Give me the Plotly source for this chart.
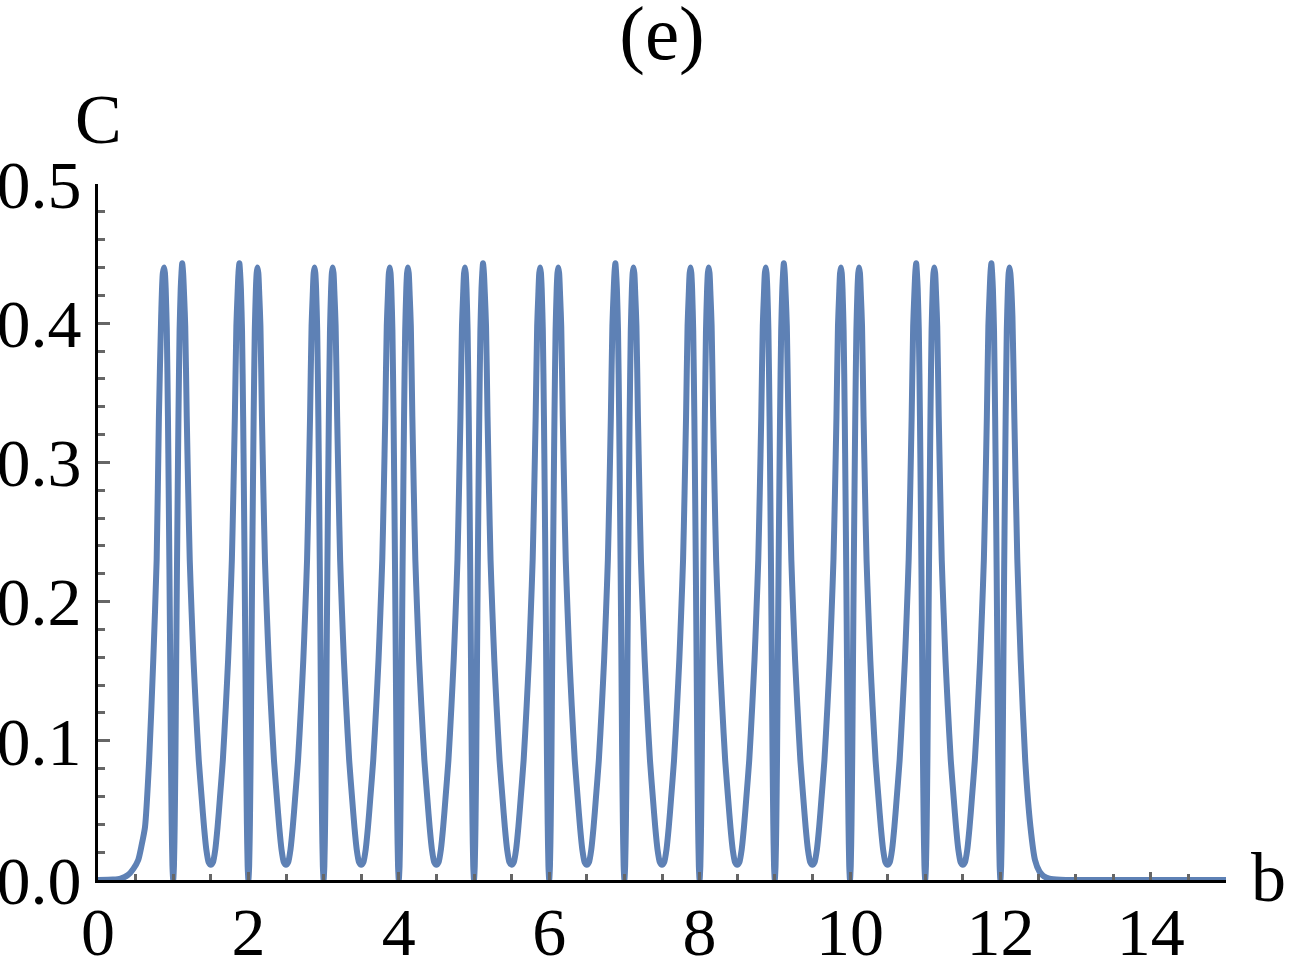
import plotly.graph_objects as go

# ---- data ----
# integer positions where C dips to zero
zero_positions = [1, 2, 3, 4, 5, 6, 7, 8, 9, 10, 11, 12]
# height of the left / right peak around each zero
peak_left = [0.440, 0.443, 0.440, 0.440, 0.440, 0.440, 0.443, 0.440, 0.440, 0.440, 0.443, 0.443]
peak_right = [0.443, 0.440, 0.440, 0.440, 0.443, 0.440, 0.440, 0.440, 0.443, 0.440, 0.440, 0.440]

# profile between a zero and its neighbouring peak (offset from the zero, C)
inner_offsets = [0.000, 0.010, 0.020, 0.030, 0.040, 0.050, 0.060, 0.070, 0.085, 0.100, 0.110]
inner_values = [0.000, 0.010, 0.040, 0.090, 0.158, 0.223, 0.280, 0.333, 0.395, 0.425, 0.436]
peak_offset = 0.120
# profile between a peak and the valley half way between zeros
outer_offsets = [0.132, 0.145, 0.160, 0.180, 0.200, 0.220, 0.245, 0.270, 0.300, 0.340, 0.380, 0.410, 0.440, 0.470]
outer_values = [0.436, 0.420, 0.398, 0.333, 0.278, 0.230, 0.192, 0.158, 0.125, 0.086, 0.058, 0.038, 0.022, 0.013]
valley_value = 0.011

# initial rise before the first peak
rise_b = [0.00, 0.20, 0.30, 0.40, 0.47, 0.535, 0.58, 0.625, 0.68, 0.735, 0.78, 0.81, 0.84, 0.862]
rise_C = [0.000, 0.0003, 0.001, 0.0036, 0.008, 0.0144, 0.025, 0.038, 0.086, 0.158, 0.230, 0.333, 0.405, 0.436]
# final decay after the last peak
fall_b = [12.132, 12.16, 12.185, 12.225, 12.27, 12.33, 12.40, 12.46, 12.52, 12.57, 12.65, 12.80, 13.0, 15.0]
fall_C = [0.436, 0.405, 0.333, 0.230, 0.158, 0.086, 0.038, 0.0144, 0.006, 0.003, 0.001, 0.0002, 0.0, 0.0]

# ---- assemble the curve from the read values ----
b_vals = list(rise_b)
C_vals = list(rise_C)
for i, n in enumerate(zero_positions):
    # left peak
    b_vals.append(n - peak_offset)
    C_vals.append(peak_left[i])
    # down to the zero
    for d, c in zip(reversed(inner_offsets), reversed(inner_values)):
        b_vals.append(n - d)
        C_vals.append(c)
    # up to the right peak
    for d, c in zip(inner_offsets[1:], inner_values[1:]):
        b_vals.append(n + d)
        C_vals.append(c)
    b_vals.append(n + peak_offset)
    C_vals.append(peak_right[i])
    if i < len(zero_positions) - 1:
        # valley towards the next zero
        for d, c in zip(outer_offsets, outer_values):
            b_vals.append(n + d)
            C_vals.append(c)
        b_vals.append(n + 0.5)
        C_vals.append(valley_value)
        nxt = zero_positions[i + 1]
        for d, c in zip(reversed(outer_offsets), reversed(outer_values)):
            b_vals.append(nxt - d)
            C_vals.append(c)
    else:
        b_vals.extend(fall_b)
        C_vals.extend(fall_C)

FONT = "Liberation Serif"

fig = go.Figure()
fig.add_trace(go.Scatter(
    x=b_vals, y=C_vals, mode="lines",
    line=dict(color="#5E81B5", width=6, shape="spline", smoothing=0.6),
    showlegend=False, hoverinfo="skip",
))

fig.update_layout(
    width=1290, height=959,
    margin=dict(l=98, r=64, t=184, b=79, autoexpand=False),
    paper_bgcolor="white", plot_bgcolor="white",
    title=dict(text="(e)", x=0.5, xref="paper", xanchor="center",
               y=0.967, yref="container", yanchor="middle",
               font=dict(family=FONT, size=77, color="black")),
    font=dict(family=FONT, color="black"),
)

fig.update_xaxes(
    range=[0, 15], showgrid=False, zeroline=False, automargin=False,
    showline=True, linecolor="black", linewidth=3,
    tick0=0, dtick=2, ticks="inside", ticklen=8, tickwidth=2.5, tickcolor="#666666",
    minor=dict(dtick=0.5, tick0=0, ticks="inside", ticklen=6, tickwidth=2.5, tickcolor="#666666", showgrid=False),
    tickfont=dict(family=FONT, size=68, color="black"),
    ticklabelstandoff=-10,
)
fig.update_yaxes(
    range=[0, 0.5], showgrid=False, zeroline=False, automargin=False,
    showline=True, linecolor="black", linewidth=3,
    tick0=0, dtick=0.1, tickformat=".1f",
    ticks="inside", ticklen=12, tickwidth=2.5, tickcolor="#666666",
    minor=dict(dtick=0.02, tick0=0, ticks="inside", ticklen=7, tickwidth=2.5, tickcolor="#666666", showgrid=False),
    tickfont=dict(family=FONT, size=68, color="black"),
    ticklabelstandoff=0,
)

fig.add_annotation(text="C", x=0, y=0.5, xref="x", yref="y",
                   xanchor="center", yanchor="bottom", yshift=24, showarrow=False,
                   font=dict(family=FONT, size=70, color="black"))
fig.add_annotation(text="b", x=15, y=0, xref="x", yref="y",
                   xanchor="left", yanchor="middle", xshift=23, yshift=3, showarrow=False,
                   font=dict(family=FONT, size=70, color="black"))

# remove the default 8px page margin so the figure fills the window exactly
fig.write_html(
    "out.html",
    config={"displayModeBar": False},
    post_script="document.body.style.margin='0';document.body.style.overflow='hidden';",
)
